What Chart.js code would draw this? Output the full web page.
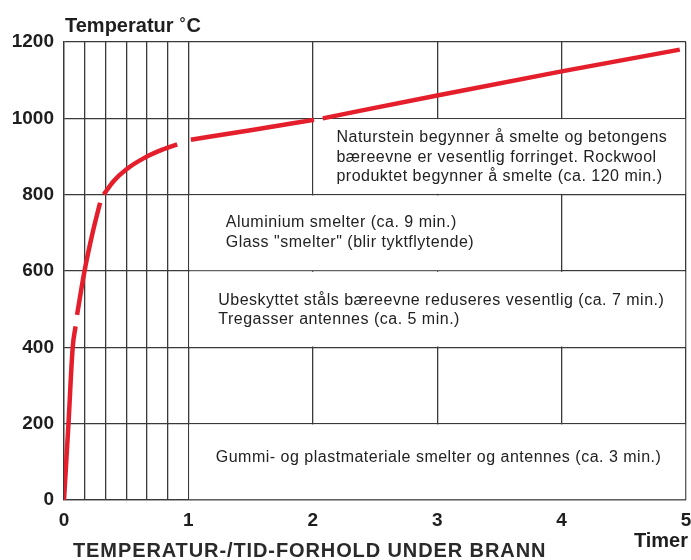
<!DOCTYPE html>
<html>
<head>
<meta charset="utf-8">
<script src="https://cdn.jsdelivr.net/npm/chart.js@4.4.1/dist/chart.umd.min.js"></script>
<style>
  html, body { margin: 0; padding: 0; background: #ffffff; }
  #wrap { width: 691px; height: 560px; }
</style>
</head>
<body>
<div id="wrap"><canvas id="c" width="691" height="560"></canvas></div>
<script>
// ---- data ----
const timeHours = [0, 0.036, 0.07, 0.093, 0.099, 0.105, 0.165, 0.23, 0.29, 0.305, 0.32, 0.4, 0.5, 0.65, 0.79, 0.91, 0.965, 1.02, 1.5, 2.01, 2.045, 2.08, 3.0, 4.0, 4.95];
const tempC     = [0, 200, 400, 455, null, 485, 600, 700, 779, null, 801, 836, 866, 897, 918, 932, null, 944, 969, 996, null, 1000, 1060, 1123, 1180];
const xGridMinutes = [0, 10, 20, 30, 40, 50, 60, 120, 180, 240, 300];
const xTickLabels  = ['0', '', '', '', '', '', '1', '2', '3', '4', '5'];
const yTickValues  = [0, 200, 400, 600, 800, 1000, 1200];
const yAxisTitle = 'Temperatur';
const yAxisUnit = 'C';
const xAxisTitle = 'Timer';
const chartTitle = 'TEMPERATUR-/TID-FORHOLD UNDER BRANN';
const noteTexts = [
  ['Naturstein begynner å smelte og betongens', 'bæreevne er vesentlig forringet. Rockwool', 'produktet begynner å smelte (ca. 120 min.)'],
  ['Aluminium smelter (ca. 9 min.)', 'Glass "smelter" (blir tyktflytende)'],
  ['Ubeskyttet ståls bæreevne reduseres vesentlig (ca. 7 min.)', 'Tregasser antennes (ca. 5 min.)'],
  ['Gummi- og plastmateriale smelter og antennes (ca. 3 min.)']
];
// box extents (in axis units) for each note: [xFrom, xTo, yFrom, yTo]
const noteBoxes = [[2, 5, 800, 1000], [1, 4, 600, 800], [1, 5, 400, 600], [1, 5, 0, 200]];

const FONT = '"Liberation Sans", Arial, Helvetica, sans-serif';
const GRID = '#3a3a3a';
const INK = '#1e1e1e';

const points = timeHours.map((t, i) => ({ x: t, y: tempC[i] }));

const notesPlugin = {
  id: 'notes',
  beforeDatasetsDraw(chart) {
    const { ctx, scales: { x, y } } = chart;
    ctx.save();
    noteBoxes.forEach((b) => {
      const x0 = x.getPixelForValue(b[0]), x1 = x.getPixelForValue(b[1]);
      const y0 = y.getPixelForValue(b[3]), y1 = y.getPixelForValue(b[2]);
      ctx.fillStyle = '#ffffff';
      ctx.fillRect(x0 + 0.8, y0 + 0.8, x1 - x0 - 1.6, y1 - y0 - 1.6);
    });
    ctx.fillStyle = '#222222';
    ctx.font = '16px ' + FONT;
    ctx.letterSpacing = '0.5px';
    ctx.textBaseline = 'middle';
    ctx.textAlign = 'left';
    const lh = 19.5;
    const placements = [
      { xLeft: 2.19, dy: 1 },
      { xLeft: 1.3, dy: 0 },
      { xLeft: 1.24, dy: 1 },
      { xLeft: 1.22, dy: -4 }
    ];
    noteTexts.forEach((lines, i) => {
      const b = noteBoxes[i];
      const yc = (y.getPixelForValue(b[2]) + y.getPixelForValue(b[3])) / 2 + placements[i].dy;
      const left = x.getPixelForValue(placements[i].xLeft);
      lines.forEach((l, k) => {
        ctx.fillText(l, left, yc + (k - (lines.length - 1) / 2) * lh);
      });
    });
    ctx.restore();
  },
  afterDraw(chart) {
    const { ctx, chartArea } = chart;
    ctx.save();
    ctx.fillStyle = INK;
    ctx.textBaseline = 'alphabetic';
    ctx.textAlign = 'left';
    ctx.font = 'bold 20px ' + FONT;
    ctx.fillText(yAxisTitle, chartArea.left + 1, 32);
    const tw = ctx.measureText(yAxisTitle).width;
    ctx.font = 'bold 15px ' + FONT;
    ctx.fillText('°', chartArea.left + 1 + tw + 6, 28);
    ctx.font = 'bold 20px ' + FONT;
    ctx.fillText(yAxisUnit, chartArea.left + 1 + tw + 13, 32);
    ctx.textAlign = 'right';
    ctx.font = 'bold 20px ' + FONT;
    ctx.fillText(xAxisTitle, 688, 547);
    ctx.textAlign = 'left';
    ctx.fillStyle = '#2a2a2a';
    ctx.font = 'bold 20px ' + FONT;
    ctx.letterSpacing = '0.9px';
    ctx.fillText(chartTitle, 73, 557);
    ctx.restore();
  }
};

new Chart(document.getElementById('c'), {
  type: 'line',
  data: {
    datasets: [{
      data: points,
      borderColor: '#e41e2b',
      borderWidth: 4.5,
      borderCapStyle: 'butt',
      borderJoinStyle: 'round',
      pointRadius: 0,
      cubicInterpolationMode: 'monotone',
      spanGaps: false,
      fill: false
    }]
  },
  options: {
    responsive: false,
    animation: false,
    devicePixelRatio: 1,
    layout: { padding: { left: 0, right: 5, top: 42, bottom: 0 } },
    plugins: { legend: { display: false }, tooltip: { enabled: false }, title: { display: false } },
    scales: {
      x: {
        type: 'linear',
        min: 0, max: 5,
        afterBuildTicks(scale) { scale.ticks = xGridMinutes.map(m => ({ value: m / 60 })); },
        afterFit(scale) { scale.height = 60; scale.paddingRight = 0; scale.paddingLeft = 0; },
        ticks: {
          autoSkip: false,
          maxRotation: 0,
          padding: 9,
          color: INK,
          font: { family: FONT, size: 19, weight: 'bold' },
          callback(v, i) { return xTickLabels[i]; }
        },
        grid: { color: GRID, lineWidth: 1.3, drawTicks: false },
        border: { color: GRID, width: 1.3 }
      },
      y: {
        type: 'linear',
        min: 0, max: 1200,
        afterBuildTicks(scale) { scale.ticks = yTickValues.map(v => ({ value: v })); },
        afterFit(scale) { scale.width = 64; scale.paddingTop = 0; scale.paddingBottom = 0; },
        ticks: {
          padding: 10,
          color: INK,
          font: { family: FONT, size: 19, weight: 'bold' },
          callback(v) { return String(v); }
        },
        grid: { color: GRID, lineWidth: 1.3, drawTicks: false },
        border: { color: GRID, width: 1.3 }
      }
    }
  },
  plugins: [notesPlugin]
});
</script>
</body>
</html>
